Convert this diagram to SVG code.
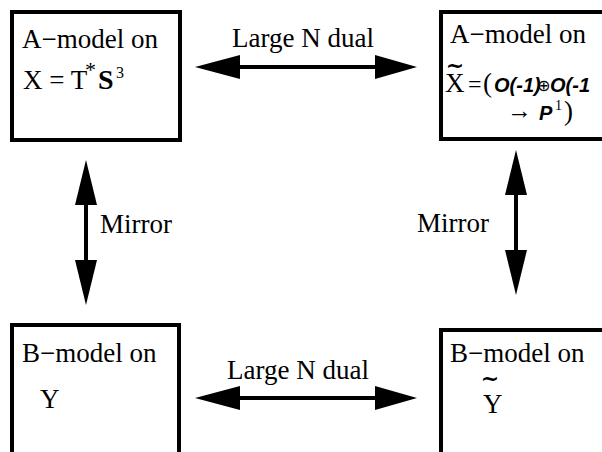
<svg xmlns="http://www.w3.org/2000/svg" width="602" height="452" viewBox="0 0 602 452">
<style>
.box{fill:#fff;stroke:#000;stroke-width:4}
.t{font-family:"Liberation Serif","Times New Roman",serif;font-size:27px;fill:#000}
.bi{font-family:"Liberation Sans",Arial,sans-serif;font-weight:bold;font-style:italic;font-size:20px;fill:#000}
.tl{font-family:"DejaVu Sans",sans-serif;font-weight:bold;font-size:22px;fill:#000;text-anchor:middle}
.ln{stroke:#000;stroke-width:4;fill:none}
.hd{fill:#000}
</style>
<rect width="602" height="452" fill="#fff"/>
<g id="connectors">
<g id="dual-top">
<line class="ln" x1="235" y1="67" x2="380" y2="67"/>
<polygon class="hd" points="195,67 240,55 240,79"/>
<polygon class="hd" points="417,67 375,55 375,79"/>
<text class="t" x="232" y="47">Large N dual</text>
</g>
<g id="dual-bottom">
<line class="ln" x1="235" y1="398" x2="380" y2="398"/>
<polygon class="hd" points="195,398 240,386 240,410"/>
<polygon class="hd" points="417,398 375,386 375,410"/>
<text class="t" x="227" y="379">Large N dual</text>
</g>
<g id="mirror-left">
<line class="ln" x1="86" y1="200" x2="86" y2="265"/>
<polygon class="hd" points="86,160 75,205 97,205"/>
<polygon class="hd" points="86,305 75,260 97,260"/>
<text class="t" x="100" y="233">Mirror</text>
</g>
<g id="mirror-right">
<line class="ln" x1="516" y1="190" x2="516" y2="255"/>
<polygon class="hd" points="516,150 505,195 527,195"/>
<polygon class="hd" points="516,295 505,250 527,250"/>
<text class="t" x="417" y="232">Mirror</text>
</g>
</g>
<g id="node-a-x">
<rect class="box" x="12" y="12" width="168" height="128"/>
<text class="t" x="22" y="48">A−model on</text>
<text class="t" x="23" y="89">X = T</text>
<text class="t" x="85" y="77" style="font-size:22px">*</text>
<text class="t" x="98" y="89" style="font-weight:bold;font-size:28px">S</text>
<text class="t" x="116" y="78" style="font-size:16px">3</text>
</g>
<g id="node-a-xtilde">
<rect class="box" x="441" y="12" width="200" height="127"/>
<text class="t" x="450" y="43">A−model on</text>
<text class="tl" x="455" y="73">~</text>
<text class="t" x="445" y="92">X</text>
<text class="t" x="468" y="92" style="font-size:24px">=</text>
<text class="t" x="483" y="92">(</text>
<text class="bi" x="494" y="92">O(-1)</text>
<text x="537" y="91" style="font-family:'DejaVu Sans',sans-serif;font-size:16px">⊕</text>
<text class="bi" x="550" y="92">O(-1</text>
<text class="t" x="507" y="119" style="font-size:25px">→</text>
<text class="bi" x="539" y="120">P</text>
<text class="t" x="555" y="110" style="font-size:14px">1</text>
<text class="t" x="564" y="120">)</text>
</g>
<g id="node-b-y">
<rect class="box" x="12" y="325" width="167" height="150"/>
<text class="t" x="22" y="362">B−model on</text>
<text class="t" x="40" y="408">Y</text>
</g>
<g id="node-b-ytilde">
<rect class="box" x="441" y="330" width="200" height="150"/>
<text class="t" x="450" y="362">B−model on</text>
<text class="tl" x="490" y="386">~</text>
<text class="t" x="483" y="413">Y</text>
</g>
</svg>
